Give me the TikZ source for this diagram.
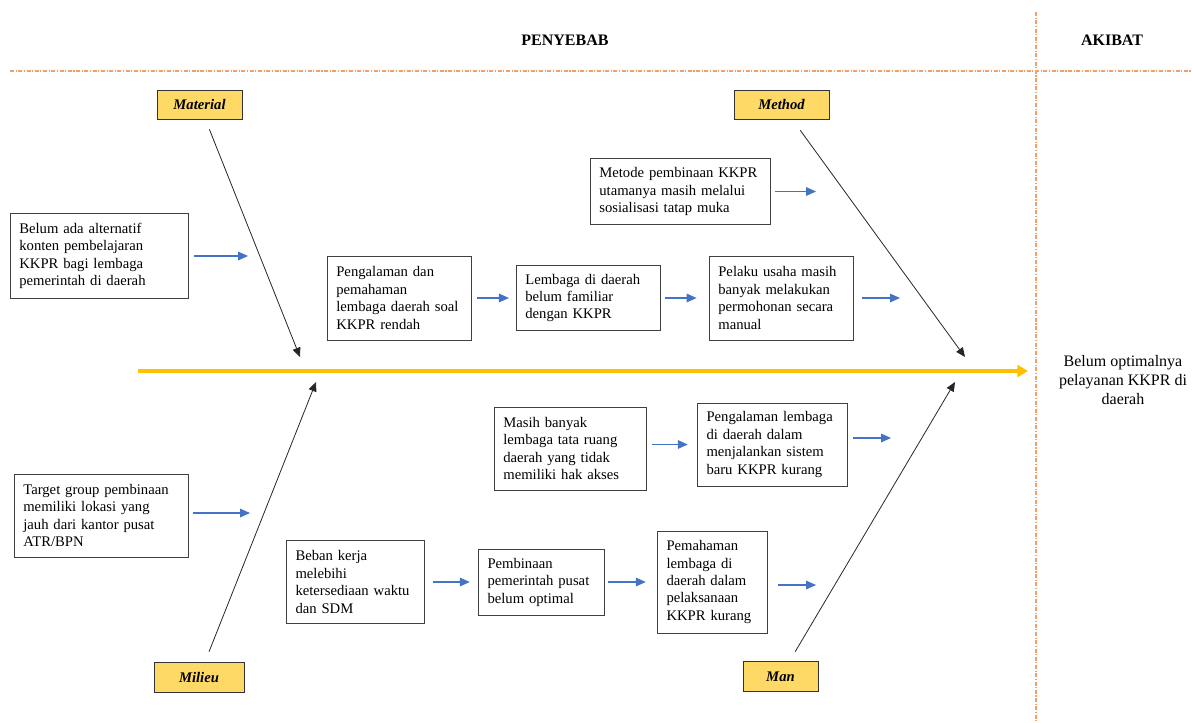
\documentclass[tikz,border=0pt]{standalone}
\usepackage{fontspec}
\setmainfont{Liberation Serif}
\usepackage{xcolor}
\usetikzlibrary{arrows.meta}

\definecolor{spinegold}{HTML}{FFC000}
\definecolor{catfill}{HTML}{FFD966}
\definecolor{flowblue}{HTML}{4472C4}
\definecolor{sepline}{HTML}{F2A06A}

\begin{document}
\begin{tikzpicture}[x=0.75pt, y=-0.75pt,
    cause/.style={draw=black!75, line width=0.6pt, fill=white, align=left,
        inner xsep=7pt, inner ysep=3pt, font=\fontsize{11}{13.1}\selectfont},
    category/.style={draw=black!80, line width=0.6pt, fill=catfill,
        font=\fontsize{11}{13}\selectfont\bfseries\itshape},
    flow/.style={draw=flowblue, line width=0.8pt, shorten <=4.5pt, shorten >=5pt,
        -{Triangle[length=7.5pt,width=6.5pt]}},
    bone/.style={draw=black!85, line width=0.6pt, shorten <=8pt,
        -{Triangle[length=7pt,width=6pt]}},
    spine/.style={draw=spinegold, line width=3pt, -{Triangle[length=8pt,width=9pt]}},
    divider/.style={draw=sepline, line width=0.8pt, dash pattern=on 3pt off 1.2pt on 0.8pt off 1.2pt},
    header/.style={font=\fontsize{12}{14}\selectfont\bfseries}]

    \useasboundingbox (0,0) rectangle (1192,722);

    % Separators between cause and effect
    \draw[divider] (10,71) -- (1192,71);
    \draw[divider] (1036,12) -- (1036,722);
    \node[header] (penyebab) at (565,40) {PENYEBAB};
    \node[header] (akibat) at (1112,40) {AKIBAT};

    % Categories
    \node[category, minimum width=63.75pt, minimum height=21.75pt] (material) at (199.5,104.5) {Material};
    \node[category, minimum width=71.25pt, minimum height=21.75pt] (method) at (781.5,104.5) {Method};
    \node[category, minimum width=67.5pt, minimum height=22.5pt] (milieu) at (199,677) {Milieu};
    \node[category, minimum width=56.25pt, minimum height=23pt] (man) at (780.5,676.5) {Man};

    % Spine and effect
    \coordinate (spineL) at (138,371);
    \coordinate (spineR) at (1028,371);
    \draw[spine] (spineL) -- (spineR);
    \node[align=center, font=\fontsize{12}{14.5}\selectfont] (effect) at (1123,380)
        {Belum optimalnya\\pelayanan KKPR di\\daerah};

    % Bones
    \coordinate (matEnd) at (300,357);
    \coordinate (mtdEnd) at (965,357);
    \coordinate (milEnd) at (316,382);
    \coordinate (manEnd) at (955,382);
    \draw[bone] (material) -- (matEnd);
    \draw[bone, shorten <=10pt] (method) -- (mtdEnd);
    \draw[bone] (milieu) -- (milEnd);
    \draw[bone] (man) -- (manEnd);

    % Causes - Material
    \node[cause, text width=119.5pt, minimum height=63.75pt] (konten) at (99,256)
        {Belum ada alternatif\\konten pembelajaran\\KKPR bagi lembaga\\pemerintah di daerah};
    \node[cause, text width=94pt, minimum height=63pt] (pengalaman) at (399,298)
        {Pengalaman dan\\pemahaman\\lembaga daerah soal\\KKPR rendah};
    \node[cause, text width=94pt, minimum height=48.75pt] (familiar) at (588,298)
        {Lembaga di daerah\\belum familiar\\dengan KKPR};
    \node[cause, text width=94pt, minimum height=63pt] (manual) at (781,298)
        {Pelaku usaha masih\\banyak melakukan\\permohonan secara\\manual};

    % Causes - Method
    \node[cause, text width=121pt, minimum height=49.5pt] (metode) at (680,191.5)
        {Metode pembinaan KKPR\\utamanya masih melalui\\sosialisasi tatap muka};

    % Causes - Man
    \node[cause, text width=100pt, minimum height=62.25pt] (akses) at (570,448.5)
        {Masih banyak\\lembaga tata ruang\\daerah yang tidak\\memiliki hak akses};
    \node[cause, text width=99pt, minimum height=62.25pt] (sistem) at (772.5,444.5)
        {Pengalaman lembaga\\di daerah dalam\\menjalankan sistem\\baru KKPR kurang};
    \node[cause, text width=69pt, minimum height=76.5pt] (pelaksanaan) at (712.5,582)
        {Pemahaman\\lembaga di\\daerah dalam\\pelaksanaan\\KKPR kurang};

    % Causes - Milieu
    \node[cause, text width=116.5pt, minimum height=62.25pt] (lokasi) at (101,515.5)
        {Target group pembinaan\\memiliki lokasi yang\\jauh dari kantor pusat\\ATR/BPN};
    \node[cause, text width=90pt, minimum height=62.25pt] (beban) at (355.5,582)
        {Beban kerja\\melebihi\\ketersediaan waktu\\dan SDM};
    \node[cause, text width=81pt, minimum height=49.5pt] (pusat) at (541.5,582)
        {Pembinaan\\pemerintah pusat\\belum optimal};

    % Flow arrows
    \coordinate (matIn) at (248,256);
    \coordinate (mtdIn) at (816,191.5);
    \coordinate (mtdIn2) at (900,298);
    \coordinate (manIn) at (891,438);
    \coordinate (manIn2) at (816,585);
    \coordinate (milIn) at (250,513);
    \draw[flow, shorten >=0pt] (konten.east) -- (matIn);
    \draw[flow, shorten <=3.75pt, shorten >=0pt] (metode.east) -- (mtdIn);
    \draw[flow] (pengalaman.east) -- (familiar.west);
    \draw[flow, shorten <=3.75pt, shorten >=9pt] (familiar.east) -- (manual.west);
    \draw[flow, shorten <=6.75pt, shorten >=0pt] (manual.east) -- (mtdIn2);
    \draw[flow, shorten >=6.75pt] (akses.east |- sistem.west) -- (sistem.west);
    \draw[flow, shorten <=3.75pt, shorten >=0pt] (sistem.east |- manIn) -- (manIn);
    \draw[flow, shorten <=7.5pt, shorten >=0pt] (pelaksanaan.east |- manIn2) -- (manIn2);
    \draw[flow, shorten <=3.75pt, shorten >=0pt] (lokasi.east |- milIn) -- (milIn);
    \draw[flow, shorten <=6pt, shorten >=6pt] (beban.east) -- (pusat.west);
    \draw[flow, shorten <=2.25pt, shorten >=8.25pt] (pusat.east) -- (pelaksanaan.west);
\end{tikzpicture}
\end{document}
